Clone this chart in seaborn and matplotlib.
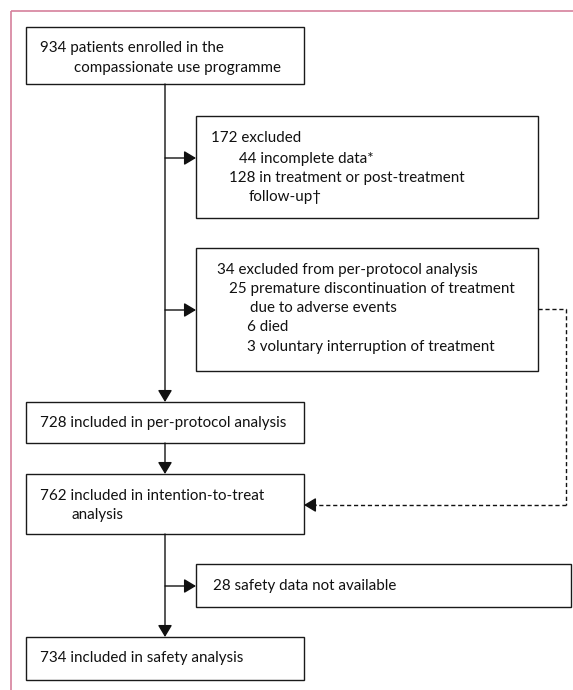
import matplotlib
matplotlib.use("Agg")
import matplotlib.pyplot as plt
from matplotlib.patches import Rectangle
import seaborn as sns

# Flowchart content
enrolled = ["934 patients enrolled in the", "compassionate use programme"]
excluded = ["172 excluded", "44 incomplete data*", "128 in treatment or post-treatment", "follow-up\u2020"]
pp_excluded = ["34 excluded from per-protocol analysis",
               "25 premature discontinuation of treatment",
               "due to adverse events",
               "6 died",
               "3 voluntary interruption of treatment"]
per_protocol = ["728 included in per-protocol analysis"]
itt = ["762 included in intention-to-treat", "analysis"]
no_safety = ["28 safety data not available"]
safety = ["734 included in safety analysis"]

sns.set_theme(style="white")
plt.rcParams["font.family"] = ["Lato", "DejaVu Sans"]

fig = plt.figure(figsize=(5.73, 6.90), dpi=100)
ax = fig.add_axes([0, 0, 1, 1])
ax.set_xlim(0, 573)
ax.set_ylim(690, 0)
ax.axis("off")

pink = "#d5809c"
ax.plot([11, 11], [690, 11], color=pink, lw=1.2, solid_capstyle="butt")
ax.plot([11, 573], [11, 11], color=pink, lw=1.2, solid_capstyle="butt")

FS = 10.9


def box(x0, x1, y0, y1, lines, xs, ys):
    ax.add_patch(Rectangle((x0, y0), x1 - x0, y1 - y0, fill=False,
                           edgecolor="#1a1a1a", lw=1.0))
    for t, x, y in zip(lines, xs, ys):
        ax.text(x, y, t, fontsize=FS, va="center", ha="left", color="#111111")


box(26, 304, 27, 84, enrolled, [40, 74], [48, 68])
box(196, 538, 116, 218, excluded, [211, 239, 229, 249], [138, 159, 178, 197])
box(196, 538, 248, 371, pp_excluded, [217, 229, 250, 247, 247], [270, 289, 308, 327, 347])
box(26, 304, 402, 443, per_protocol, [40], [423])
box(26, 304, 474, 534, itt, [40, 71], [496, 515])
box(196, 571, 564, 607, no_safety, [213], [586])
box(26, 304, 637, 680, safety, [40], [658])


def arrow(x0, y0, x1, y1, ls="-"):
    ax.annotate("", xy=(x1, y1), xytext=(x0, y0),
                arrowprops=dict(arrowstyle="-|>,head_length=0.4,head_width=0.24",
                                color="#111111", lw=1.0, linestyle=ls,
                                mutation_scale=18, shrinkA=0, shrinkB=0))


# main spine
arrow(165, 84, 165, 402)
arrow(165, 443, 165, 474)
arrow(165, 534, 165, 637)
# side branches
arrow(165, 158, 196, 158)
arrow(165, 310, 196, 310)
arrow(165, 586, 196, 586)
# dashed return path
ax.plot([538, 566, 566], [309, 309, 505], color="#111111", lw=1.0, ls=(0, (3, 2)))
ax.plot([566, 314], [505, 505], color="#111111", lw=1.0, ls=(0, (3, 2)))
arrow(316, 505, 304, 505)

fig.savefig("out.png", dpi=100)
